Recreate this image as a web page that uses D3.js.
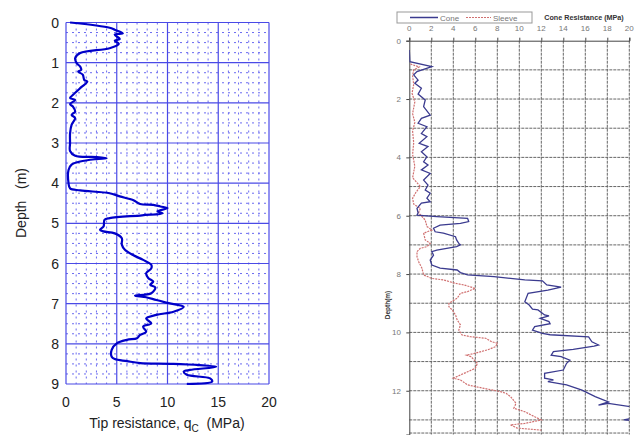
<!DOCTYPE html>
<html lang="en">
<head>
    <meta charset="UTF-8">
    <script src="https://cdn.jsdelivr.net/npm/d3@7"></script>
    <title>CPT profiles</title>
    <style>
        body { margin: 0; background: #fff; }
        text { font-family: "Liberation Sans", Arial, sans-serif; }
    </style>
</head>
<body>
    <svg width="641" height="435"></svg>
    <script>
        // left panel: tip resistance vs depth  [depth m, qc MPa]
        const tipProfile = [
            [0,0.4],[0.13,4.3],[0.18,4.8],[0.27,5.6],[0.3,4.8],[0.41,5.3],[0.45,4.8],[0.53,5.2],[0.64,4.3],
            [0.76,1.4],[0.89,0.9],[1.01,1.05],[1.1,1.4],[1.18,1.5],[1.22,1.2],[1.3,1.65],[1.43,1.8],[1.47,2.1],
            [1.61,1.5],[1.8,0.7],[1.88,0.4],[1.93,0.9],[2.03,0.4],[2.1,0.7],[2.22,0.9],[2.3,0.55],[2.38,0.9],
            [2.55,0.55],[2.76,0.4],[3.0,0.4],[3.2,0.4],[3.32,0.9],[3.35,3.0],[3.38,4.0],[3.4,3.0],[3.46,1.4],
            [3.54,0.55],[3.67,0.25],[4.0,0.25],[4.13,0.4],[4.18,1.4],[4.25,4.3],[4.33,5.3],[4.42,6.6],[4.52,7.3],
            [4.54,8.6],[4.58,9.3],[4.62,10.0],[4.7,9.0],[4.75,9.5],[4.8,7.5],[4.87,4.3],[4.91,3.8],[5.08,3.7],
            [5.16,3.35],[5.2,3.7],[5.25,4.8],[5.37,5.5],[5.53,5.5],[5.66,5.8],[5.79,6.6],[5.91,7.6],[6.03,8.4],
            [6.12,8.4],[6.24,7.9],[6.36,8.1],[6.45,8.6],[6.53,8.3],[6.6,8.8],[6.74,8.4],[6.8,6.8],[6.84,7.9],
            [6.91,8.9],[6.98,10.0],[7.08,11.6],[7.2,10.6],[7.28,8.9],[7.37,7.9],[7.49,8.4],[7.57,7.6],[7.7,7.9],
            [7.78,7.3],[7.86,7.0],[7.9,6.0],[7.99,5.0],[8.15,4.5],[8.32,4.5],[8.38,4.8],[8.43,6.0],[8.48,7.3],
            [8.5,10.6],[8.57,14.8],[8.65,12.2],[8.69,11.6],[8.77,11.9],[8.86,14.2],[8.94,14.4],[9.0,11.9]
        ];

        // right panel: cone and sleeve  [depth m, MPa]
        const coneProfile = [
            [0.32,0],[0.72,0.05],[0.89,2.05],[1.06,0.7],[1.17,0.4],[1.35,0.8],[1.46,0.5],[1.63,1.1],[1.83,0.8],
            [2.03,1.45],[2.26,1.3],[2.55,1.9],[2.66,1.1],[2.83,0.8],[2.95,1.6],[3.18,1.1],[3.29,1.6],[3.52,0.9],
            [3.63,1.7],[3.81,1.1],[3.98,1.6],[4.15,1.3],[4.26,1.7],[4.43,1.1],[4.55,1.9],[4.78,1.3],[4.95,1.7],
            [5.12,1.45],[5.23,1.9],[5.4,1.6],[5.52,1.9],[5.57,1.1],[5.75,0.7],[5.9,0.8],[5.98,0.7],[6.03,2.5],
            [6.09,5.3],[6.2,5.4],[6.26,4.65],[6.32,2.8],[6.43,2.2],[6.55,2.35],[6.6,3.1],[6.72,4.2],[6.83,4.3],
            [6.95,4.5],[7.0,4.65],[7.06,4.3],[7.18,2.5],[7.23,2.05],[7.35,2.2],[7.52,1.9],[7.69,2.05],[7.8,2.8],
            [7.86,4.35],[7.95,4.65],[8.03,5.3],[8.09,7.7],[8.15,9.2],[8.2,10.5],[8.23,12.1],[8.37,12.5],[8.45,13.8],
            [8.55,12.6],[8.66,10.8],[8.95,10.5],[9.06,10.9],[9.2,11.2],[9.23,11.7],[9.4,12.3],[9.43,12.7],[9.52,11.9],
            [9.63,12.7],[9.7,12.8],[9.8,11.4],[9.92,11.2],[10.03,12.1],[10.08,12.8],[10.15,16.3],[10.32,16.6],
            [10.43,17.2],[10.47,16.8],[10.58,14.9],[10.66,13.1],[10.78,12.9],[10.83,13.8],[10.95,14.6],[11.06,14.3],
            [11.29,14.0],[11.4,12.3],[11.57,12.3],[11.63,13.1],[11.69,12.6],[11.8,14.3],[11.98,15.7],[12.2,16.9],
            [12.38,18.1],[12.49,17.2],[12.43,18.1],[12.57,20.5],[12.8,22],[13.0,19.5],[13.05,21]
        ];
        const sleeveProfile = [
            [0.8,0.1],[0.9,0.9],[1.0,0.4],[1.2,0.3],[1.5,0.4],[1.8,0.25],[2.1,0.5],[2.5,0.3],[2.8,0.5],[3.1,0.3],
            [3.5,0.4],[3.9,0.3],[4.3,0.5],[4.7,0.3],[5.0,1.0],[5.2,0.6],[5.4,0.3],[5.6,0.4],[5.75,1.0],[5.9,0.85],
            [6.15,1.45],[6.37,1.6],[6.49,2.05],[6.6,1.3],[6.83,1.45],[6.95,1.9],[7.06,1.6],[7.12,1.0],[7.23,0.7],
            [7.4,0.7],[7.58,0.85],[7.8,1.15],[8.03,1.3],[8.15,2.05],[8.2,3.1],[8.32,4.2],[8.37,4.95],[8.49,6.0],
            [8.6,5.3],[8.66,4.65],[8.83,4.35],[9.0,3.6],[9.12,3.6],[9.23,3.9],[9.4,4.2],[9.57,4.35],[9.74,4.65],
            [9.92,4.5],[10.09,4.8],[10.15,5.6],[10.2,6.95],[10.32,7.5],[10.37,8.0],[10.49,7.85],[10.6,7.1],
            [10.72,5.9],[10.78,5.2],[10.83,5.6],[11.06,6.2],[11.23,6.0],[11.35,5.3],[11.46,4.65],[11.57,4.0],
            [11.63,4.65],[11.8,5.3],[11.92,6.8],[12.03,8.3],[12.09,8.8],[12.2,9.2],[12.43,9.7],[12.6,9.5],
            [12.72,10.5],[12.89,11.4],[13.0,12.0],[13.12,10.5],[13.17,9.2],[13.28,9.8],[13.35,12.0]
        ];

        const leftXTicks = [0, 5, 10, 15, 20];
        const leftYTicks = [0, 1, 2, 3, 4, 5, 6, 7, 8, 9];
        const rightXTicks = [0, 2, 4, 6, 8, 10, 12, 14, 16, 18, 20];
        const rightYTicks = [0, 2, 4, 6, 8, 10, 12];

        const svg = d3.select('svg');

        // ---------------- left panel ----------------
        const xL = d3.scaleLinear().domain([0, 20]).range([66, 269]);
        const yL = d3.scaleLinear().domain([0, 9]).range([22.5, 384]);

        const gL = svg.append('g');

        // minor dotted grid
        gL.append('g').selectAll('line')
            .data(d3.range(1, 20).filter(v => v % 5 !== 0))
            .enter().append('line')
            .attr('x1', d => xL(d)).attr('x2', d => xL(d))
            .attr('y1', yL(0)).attr('y2', yL(9))
            .attr('stroke', '#6b6bf0').attr('stroke-width', 1)
            .attr('stroke-dasharray', '2,4');
        gL.append('g').selectAll('line')
            .data(d3.range(0.25, 9, 0.25).filter(v => v % 1 !== 0))
            .enter().append('line')
            .attr('x1', xL(0)).attr('x2', xL(20))
            .attr('y1', d => yL(d)).attr('y2', d => yL(d))
            .attr('stroke', '#6b6bf0').attr('stroke-width', 1)
            .attr('stroke-dasharray', '2,4');

        // major solid grid
        gL.append('g').selectAll('line')
            .data(leftXTicks)
            .enter().append('line')
            .attr('x1', d => xL(d)).attr('x2', d => xL(d))
            .attr('y1', yL(0)).attr('y2', yL(9))
            .attr('stroke', '#4a4ae6').attr('stroke-width', 1.2);
        gL.append('g').selectAll('line')
            .data(leftYTicks)
            .enter().append('line')
            .attr('x1', xL(0)).attr('x2', xL(20))
            .attr('y1', d => yL(d)).attr('y2', d => yL(d))
            .attr('stroke', '#4a4ae6').attr('stroke-width', 1.2);

        // tick labels
        gL.append('g').selectAll('text')
            .data(leftYTicks)
            .enter().append('text')
            .attr('x', 59).attr('y', d => yL(d) + 5)
            .attr('text-anchor', 'end')
            .attr('font-size', 14).attr('fill', '#222')
            .text(d => d);
        gL.append('g').selectAll('text')
            .data(leftXTicks)
            .enter().append('text')
            .attr('x', d => xL(d)).attr('y', 407)
            .attr('text-anchor', 'middle')
            .attr('font-size', 14).attr('fill', '#222')
            .text(d => d);

        // axis titles
        const xt = gL.append('text')
            .attr('x', 167).attr('y', 428)
            .attr('text-anchor', 'middle')
            .attr('font-size', 14).attr('fill', '#222');
        xt.append('tspan').text('Tip resistance, q');
        xt.append('tspan').attr('font-size', 10).attr('dy', 4).text('C');
        xt.append('tspan').attr('dy', -4).text('\u00a0 (MPa)');

        gL.append('text')
            .attr('transform', 'translate(26,203) rotate(-90)')
            .attr('text-anchor', 'middle')
            .attr('font-size', 14).attr('fill', '#222')
            .attr('xml:space', 'preserve')
            .text('Depth   (m)');

        const lineL = d3.line()
            .x(d => xL(d[1]))
            .y(d => yL(d[0]))
            .curve(d3.curveCatmullRom);
        gL.append('path')
            .attr('d', lineL(tipProfile))
            .attr('fill', 'none')
            .attr('stroke', '#0000c8')
            .attr('stroke-width', 2.2);

        // ---------------- right panel ----------------
        const xR = d3.scaleLinear().domain([0, 20]).range([409.3, 629.3]);
        const yR = d3.scaleLinear().domain([0, 13.5]).range([40.7, 434.5]);

        const gR = svg.append('g');

        svg.append('clipPath').attr('id', 'clipR')
            .append('rect')
            .attr('x', xR(0)).attr('y', yR(0))
            .attr('width', xR(20) - xR(0)).attr('height', yR(13.5) - yR(0));

        gR.append('g').selectAll('line')
            .data(rightXTicks.slice(1))
            .enter().append('line')
            .attr('x1', d => xR(d)).attr('x2', d => xR(d))
            .attr('y1', yR(0)).attr('y2', yR(13.5))
            .attr('stroke', '#666').attr('stroke-width', 1)
            .attr('stroke-dasharray', '3,1');
        gR.append('g').selectAll('line')
            .data(d3.range(1, 14))
            .enter().append('line')
            .attr('x1', xR(0)).attr('x2', xR(20))
            .attr('y1', d => yR(d)).attr('y2', d => yR(d))
            .attr('stroke', '#666').attr('stroke-width', 1)
            .attr('stroke-dasharray', '3,1');
        gR.append('line')
            .attr('x1', xR(0)).attr('x2', xR(20))
            .attr('y1', yR(13.45)).attr('y2', yR(13.45))
            .attr('stroke', '#666').attr('stroke-dasharray', '3,1');

        // top and left axes
        const topAxis = d3.axisTop(xR).tickValues(rightXTicks).tickSize(3).tickFormat('');
        gR.append('g')
            .attr('transform', `translate(0,${yR(0)})`)
            .call(topAxis)
            .call(g => g.selectAll('path,line').attr('stroke', '#444'));
        const leftAxis = d3.axisLeft(yR).tickValues(rightYTicks).tickSize(3).tickFormat('');
        gR.append('g')
            .attr('transform', `translate(${xR(0)},0)`)
            .call(leftAxis)
            .call(g => g.selectAll('path,line').attr('stroke', '#444'));

        gR.append('g').selectAll('text')
            .data(rightXTicks)
            .enter().append('text')
            .attr('x', d => xR(d)).attr('y', 31)
            .attr('text-anchor', 'middle')
            .attr('font-size', 8).attr('fill', '#777')
            .text(d => d);
        gR.append('g').selectAll('text')
            .data(rightYTicks)
            .enter().append('text')
            .attr('x', 401).attr('y', d => yR(d) + 3)
            .attr('text-anchor', 'end')
            .attr('font-size', 8).attr('fill', '#777')
            .text(d => d);

        gR.append('text')
            .attr('x', 584).attr('y', 20)
            .attr('text-anchor', 'middle')
            .attr('font-size', 7.2).attr('font-weight', 'bold').attr('fill', '#333')
            .text('Cone Resistance (MPa)');
        gR.append('text')
            .attr('transform', 'translate(390,305) rotate(-90)')
            .attr('text-anchor', 'middle')
            .attr('font-size', 6.5).attr('font-weight', 'bold').attr('fill', '#333')
            .text('Depth(m)');

        // legend
        const lg = gR.append('g');
        lg.append('rect')
            .attr('x', 397).attr('y', 12).attr('width', 135).attr('height', 11)
            .attr('fill', '#fff').attr('stroke', '#999');
        lg.append('line')
            .attr('x1', 410).attr('x2', 438).attr('y1', 17.5).attr('y2', 17.5)
            .attr('stroke', '#3b3b8f').attr('stroke-width', 1.5);
        lg.append('text').attr('x', 440).attr('y', 20.5)
            .attr('font-size', 8).attr('fill', '#777').text('Cone');
        lg.append('line')
            .attr('x1', 466).attr('x2', 491).attr('y1', 17.5).attr('y2', 17.5)
            .attr('stroke', '#d07070').attr('stroke-width', 1.2).attr('stroke-dasharray', '2,1');
        lg.append('text').attr('x', 493).attr('y', 20.5)
            .attr('font-size', 8).attr('fill', '#777').text('Sleeve');

        const lineR = d3.line()
            .x(d => xR(d[1]))
            .y(d => yR(d[0]));
        const plotR = gR.append('g').attr('clip-path', 'url(#clipR)');
        plotR.append('path')
            .attr('d', lineR(sleeveProfile))
            .attr('fill', 'none')
            .attr('stroke', '#d07070')
            .attr('stroke-width', 1.2)
            .attr('stroke-dasharray', '2,1');
        plotR.append('path')
            .attr('d', lineR(coneProfile))
            .attr('fill', 'none')
            .attr('stroke', '#3b3b8f')
            .attr('stroke-width', 1.3);
    </script>
</body>
</html>
